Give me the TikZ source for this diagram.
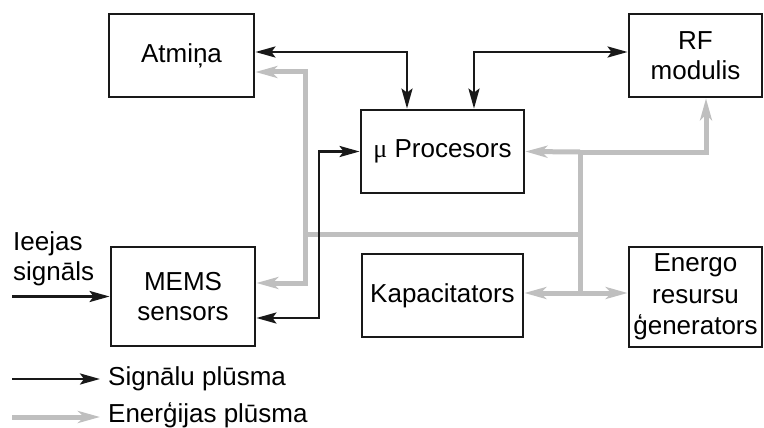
\documentclass[tikz,border=0pt]{standalone}
\usepackage{fontspec}
\setmainfont{Liberation Sans}
\newfontfamily\mufont{Liberation Serif}
\usetikzlibrary{arrows.meta}
\begin{document}
\begin{tikzpicture}[x=1pt,y=-1pt,
  font=\fontsize{26}{30}\selectfont,
  box/.style={draw=black!90, line width=2.8pt, inner sep=0pt, align=center},
  sig/.style={draw=black!90, line width=2.8pt, arrows={-}, >={Stealth[length=20pt,width=11pt,inset=4pt]}},
  en/.style={draw=black!25, line width=5pt, >={Stealth[length=22pt,width=12pt,inset=6pt]}},
  lbl/.style={inner sep=0pt}]
\useasboundingbox (0,0) rectangle (764,428);
% boxes
\node[box, minimum width=145pt, minimum height=83pt] (atm) at (181.5,55.5) {Atmiņa};
\node[box, minimum width=133pt, minimum height=83pt] (rf) at (695.5,55.5) {RF\\modulis};
\node[box, minimum width=163pt, minimum height=83pt] (proc) at (442.5,151.5) {{\mufont μ} Procesors};
\node[box, minimum width=161pt, minimum height=83pt] (kap) at (442.5,295.5) {Kapacitators};
\node[box, minimum width=144pt, minimum height=99pt] (mems) at (183,296.5) {MEMS\\sensors};
\node[box, minimum width=133pt, minimum height=100pt, font=\fontsize{26}{31.5}\selectfont] (gen) at (695.5,297) {Energo\\resursu\\ģenerators};
% energy (gray) lines
\coordinate (g1) at (305,283);
\coordinate (b1) at (305,234);
\coordinate (b2) at (580,234);
\coordinate (t) at (580,152);
\coordinate (bt) at (580,293);
\draw[en,<->] ([yshift=-16.5pt]atm.east) -| (g1) -- ([yshift=13.5pt]mems.east);
\draw[en] (b1) -- (b2);
\draw[en] (t) -- (bt);
\draw[en,->] (t) -- (proc.east);
\draw[en,->] (t) -| ([xshift=10.5pt]rf.south);
\draw[en,->] (bt) -- ([yshift=2.5pt]kap.east);
\draw[en,->] (bt) -- ([yshift=4pt]gen.west);
% signal (black) lines
\coordinate (j1) at (319,151.5);
\coordinate (in) at (12,296.5);
\draw[sig,<->] ([yshift=3.5pt]atm.east) -| ([xshift=-35.5pt]proc.north);
\draw[sig,<->] ([xshift=31.5pt]proc.north) |- ([yshift=3.5pt]rf.west);
\draw[sig,<->] ([yshift=-21.5pt]mems.east) -| (j1) -- (proc.west);
\draw[sig,->] (in) -- (mems.west);
% input label
\node[lbl, anchor=north west, align=left] (inlbl) at (13,231.5) {Ieejas\\signāls};
% legend
\coordinate (ls1) at (12,379);
\coordinate (le1) at (100,379);
\coordinate (ls2) at (12,417);
\coordinate (le2) at (100,417);
\draw[sig,->] (ls1) -- (le1);
\draw[en,->] (ls2) -- (le2);
\node[lbl, anchor=base west] (leg1) at (108,385) {Signālu plūsma};
\node[lbl, anchor=base west] (leg2) at (108,422) {Enerģijas plūsma};
\end{tikzpicture}
\end{document}
